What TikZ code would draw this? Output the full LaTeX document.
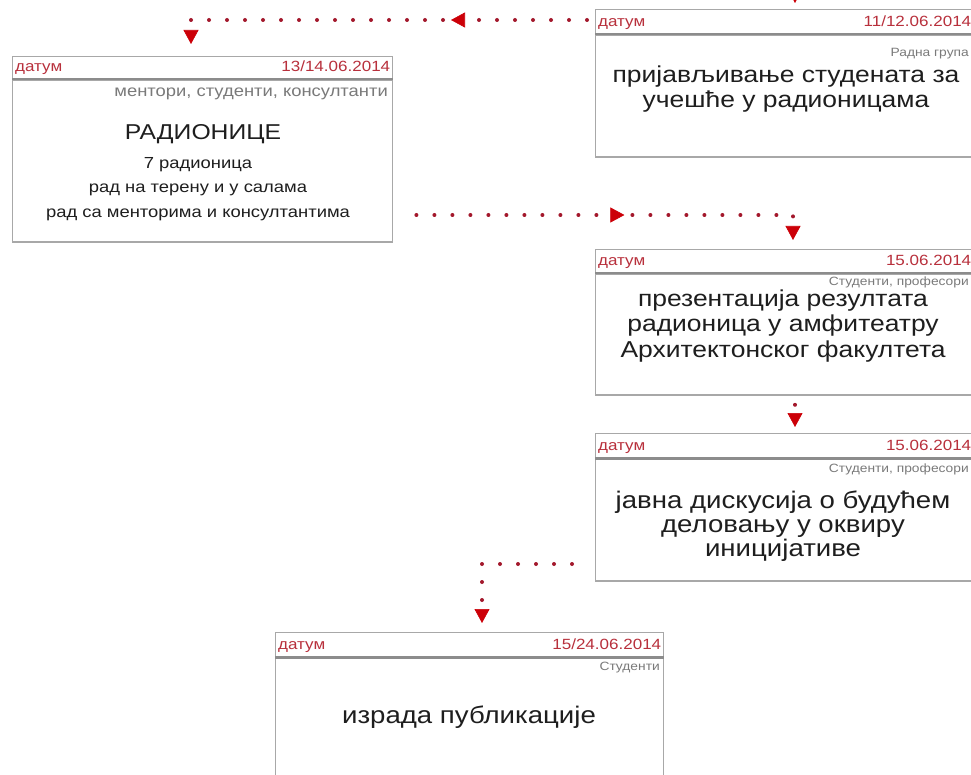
\documentclass[tikz,border=0pt]{standalone}
\usepackage{fontspec}
\setmainfont{Liberation Sans}[FakeStretch=1.15]
\usetikzlibrary{arrows.meta,decorations.markings,calc}

\definecolor{datumred}{HTML}{B8303C}
\definecolor{dotred}{HTML}{A3182C}
\definecolor{tipred}{HTML}{CC0008}
\definecolor{framegray}{HTML}{A8A8A8}
\definecolor{rulegray}{HTML}{8C8C8C}
\definecolor{rolegray}{HTML}{7A7A7A}
\definecolor{taskblack}{HTML}{1E1E1E}

\tikzset{
  cardhead/.style={draw=framegray,line width=1.4pt,anchor=north west,inner sep=0pt,minimum height=#1},
  cardbody/.style={draw=framegray,line width=1.4pt,anchor=north west,inner sep=0pt,minimum height=#1},
  headrule/.style={draw=rulegray,line width=2.2pt},
  datum/.style={text=datumred,inner xsep=3pt,inner ysep=0pt,font=\fontsize{14.8}{16}\selectfont},
  role/.style={text=rolegray,anchor=base east,inner sep=0pt,font=\fontsize{12}{13}\selectfont},
  task/.style={text=taskblack,align=center,inner sep=0pt,font=\fontsize{23}{25.5}\selectfont},
  flow/.style={dotred,line width=4pt,line cap=round,dash pattern=on 0pt off 18pt},
  tip/.style={-{Triangle[width=15pt,length=14pt,color=tipred,line width=0.6pt]}},
  midtip/.style={postaction={decorate},decoration={markings,
    mark=at position #1 with {\arrow{Triangle[width=15pt,length=14pt,color=tipred,line width=0.6pt]}}}}
}

\begin{document}
\begin{tikzpicture}[x=1pt,y=-1pt]
\useasboundingbox[fill=white] (0,0) rectangle (971,775);
\clip (0,0) rectangle (971,775);

% cards
\node[cardhead=24pt,minimum width=378pt] (h1) at (595,9) {};
\node[cardbody=122pt,minimum width=378pt] (b1) at (h1.south west) {};
\node[cardhead=22pt,minimum width=380pt] (h2) at (12,56) {};
\node[cardbody=162pt,minimum width=380pt] (b2) at (h2.south west) {};
\node[cardhead=23pt,minimum width=378pt] (h3) at (595,249) {};
\node[cardbody=121pt,minimum width=378pt] (b3) at (h3.south west) {};
\node[cardhead=24pt,minimum width=378pt] (h4) at (595,433) {};
\node[cardbody=122pt,minimum width=378pt] (b4) at (h4.south west) {};
\node[cardhead=24pt,minimum width=388pt] (h5) at (275,632) {};
\node[cardbody=160pt,minimum width=388pt] (b5) at (h5.south west) {};

\draw[headrule] (h1.south west) -- (h1.south east);
\draw[headrule] (h2.south west) -- (h2.south east);
\draw[headrule] (h3.south west) -- (h3.south east);
\draw[headrule] (h4.south west) -- (h4.south east);
\draw[headrule] (h5.south west) -- (h5.south east);

% headers
\node[datum,anchor=base west] (d1) at ($(h1.south west)+(0,-8)$) {датум};
\node[datum,anchor=base east] (e1) at ($(h1.south east)+(0,-8)$) {11/12.06.2014};
\node[datum,anchor=base west] (d2) at ($(h2.south west)+(0,-8)$) {датум};
\node[datum,anchor=base east] (e2) at ($(h2.south east)+(0,-8)$) {13/14.06.2014};
\node[datum,anchor=base west] (d3) at ($(h3.south west)+(0,-8)$) {датум};
\node[datum,anchor=base east] (e3) at ($(h3.south east)+(0,-8)$) {15.06.2014};
\node[datum,anchor=base west] (d4) at ($(h4.south west)+(0,-8)$) {датум};
\node[datum,anchor=base east] (e4) at ($(h4.south east)+(0,-8)$) {15.06.2014};
\node[datum,anchor=base west] (d5) at ($(h5.south west)+(0,-8)$) {датум};
\node[datum,anchor=base east] (e5) at ($(h5.south east)+(0,-8)$) {15/24.06.2014};

% who
\node[role] (r1) at (969,57) {Радна група};
\node[role,font=\fontsize{16}{17}\selectfont] (r2) at (388,97) {ментори, студенти, консултанти};
\node[role] (r3) at (969,286) {Студенти, професори};
\node[role] (r4) at (969,472) {Студенти, професори};
\node[role] (r5) at (660,670) {Студенти};

% what
\node[task,font=\fontsize{23}{25}\selectfont] (t1) at (786,89) {пријављивање студената за\\учешће у радионицама};
\node[task,font=\fontsize{21.5}{22}\selectfont] (t2) at (203,134) {РАДИОНИЦЕ};
\node[task,font=\fontsize{16}{24.5}\selectfont] (s2) at (198,189)
  {7 радионица\\рад на терену и у салама\\рад са менторима и консултантима};
\node[task] (t3) at (783,326) {презентација резултата\\радионица у амфитеатру\\Архитектонског факултета};
\node[task,font=\fontsize{24}{24}\selectfont] (t4) at (783,526) {јавна дискусија о будућем\\деловању у оквиру\\иницијативе};
\node[task,font=\fontsize{24}{25}\selectfont] (t5) at (469,717) {израда публикације};

% flow
\coordinate (k0) at (795,-40);
\coordinate (k1) at (191,20);
\coordinate (k2) at (793,215);
\coordinate (k3) at (795,0);
\coordinate (k4) at (482,564);

\draw[flow,tip,shorten >=6pt] (k0) -- (k0 |- h1.north);
\draw[flow,tip,midtip=136pt,shorten >=12pt] ($(k1 -| h1.west)+(-8,0)$) -- (k1) -- (k1 |- h2.north);
\draw[flow,tip,midtip=208pt,shorten >=9pt] ($(k2 -| b2.east)+(23,0)$) -- (k2) -- (k2 |- h3.north);
\draw[flow,tip,shorten >=6pt] ($(k3 |- b3.south)+(0,9)$) -- (k3 |- h4.north);
\draw[flow,tip,shorten >=9pt] ($(k4 -| b4.west)+(-23,0)$) -- (k4) -- (k4 |- h5.north);

\end{tikzpicture}
\end{document}
